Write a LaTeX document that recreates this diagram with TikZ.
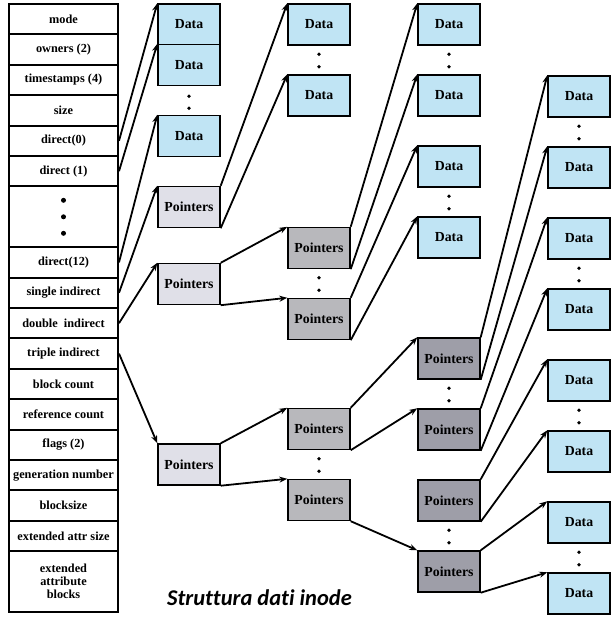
\documentclass[tikz,border=0pt]{standalone}
\usepackage{fontspec}
\setmainfont{Liberation Serif}
\newfontfamily\capfont[Ligatures=NoCommon]{Carlito}
\usepackage{tikz}
\usetikzlibrary{arrows.meta}

\definecolor{datablue}{RGB}{192,228,244}
\definecolor{ptrlight}{RGB}{224,224,232}
\definecolor{ptrmid}{RGB}{184,184,188}
\definecolor{ptrdark}{RGB}{158,158,168}

\tikzset{
  field/.style={node distance=30.4pt, draw, line width=2pt, minimum width=109pt,
    minimum height=30.4pt, inner sep=0pt, align=center,
    font=\bfseries\fontsize{12.3}{14}\selectfont},
  blk/.style={node distance=71pt, draw, line width=1.4pt, minimum width=62pt,
    minimum height=41pt, inner sep=0pt, font=\bfseries\fontsize{13.8}{15}\selectfont},
  datablk/.style={blk, fill=datablue},
  ptrA/.style={blk, fill=ptrlight},
  ptrB/.style={blk, fill=ptrmid},
  ptrC/.style={blk, fill=ptrdark},
  col/.style={node distance=130pt}
}

\begin{document}
\begin{tikzpicture}[>={Stealth[length=8pt,width=6pt]}, line width=1.8pt]

  \useasboundingbox (0,0) rectangle (612pt,-618pt);

  % inode fields
  \node[field] (r1) at (63.5pt,-19.2pt) {mode};
  \node[field, below of=r1] (r2) {owners (2)};
  \node[field, below of=r2] (r3) {timestamps (4)};
  \node[field, below of=r3] (r4) {size};
  \node[field, below of=r4] (r5) {direct(0)};
  \node[field, below of=r5] (r6) {direct (1)};
  \node[field, below of=r6, yshift=-15.2pt, minimum height=60.8pt] (rdots) {};
  \node[field, below of=rdots, yshift=-15.2pt] (r7) {direct(12)};
  \node[field, below of=r7] (r8) {single indirect};
  \node[field, below of=r8] (r9) {double\ \ indirect};
  \node[field, below of=r9] (r10) {triple indirect};
  \node[field, below of=r10] (r11) {block count};
  \node[field, below of=r11] (r12) {reference count};
  \node[field, below of=r12] (r13) {flags (2)};
  \node[field, below of=r13] (r14) {generation number};
  \node[field, below of=r14] (r15) {blocksize};
  \node[field, below of=r15] (r16) {extended attr size};
  \node[field, below of=r16, yshift=-15.2pt, minimum height=60.8pt] (r17) {extended\\[-1pt]attribute\\[-1pt]blocks};

  \fill (rdots) circle (2.5pt);
  \fill ([yshift=16.5pt]rdots.center) circle (2.5pt);
  \fill ([yshift=-16.5pt]rdots.center) circle (2.5pt);

  % first column
  \node[datablk] (a1) at (189pt,-24.5pt) {Data};
  \node[datablk, below of=a1, yshift=30.5pt] (a2) {Data};
  \node[datablk, below of=a2] (a3) {Data};
  \node[ptrA, below of=a3] (a4) {Pointers};
  \node[ptrA, below of=a4, yshift=-6pt] (a5) {Pointers};
  \node[ptrA, below of=a5, yshift=-109.5pt] (a6) {Pointers};

  % second column
  \node[datablk, col, right of=a1] (b1) {Data};
  \node[datablk, below of=b1] (b2) {Data};
  \node[ptrB, col, right of=a5, yshift=36pt] (b3) {Pointers};
  \node[ptrB, below of=b3] (b4) {Pointers};
  \node[ptrB, col, right of=a6, yshift=35.5pt] (b5) {Pointers};
  \node[ptrB, below of=b5] (b6) {Pointers};

  % third column
  \node[datablk, col, right of=b1] (c1) {Data};
  \node[datablk, below of=c1] (c2) {Data};
  \node[datablk, below of=c2] (c3) {Data};
  \node[datablk, below of=c3] (c4) {Data};
  \node[ptrC, col, right of=b5, yshift=70.5pt] (c5) {Pointers};
  \node[ptrC, below of=c5] (c6) {Pointers};
  \node[ptrC, below of=c6] (c7) {Pointers};
  \node[ptrC, below of=c7] (c8) {Pointers};

  % fourth column
  \node[datablk, col, right of=c2, yshift=-1pt] (e1) {Data};
  \node[datablk, below of=e1] (e2) {Data};
  \node[datablk, below of=e2] (e3) {Data};
  \node[datablk, below of=e3] (e4) {Data};
  \node[datablk, below of=e4] (e5) {Data};
  \node[datablk, below of=e5] (e6) {Data};
  \node[datablk, below of=e6] (e7) {Data};
  \node[datablk, below of=e7] (e8) {Data};

  % dots between blocks
  \fill ([yshift=-10pt]a2.south) circle (1.9pt) ([yshift=-22pt]a2.south) circle (1.9pt);
  \fill ([yshift=-8.5pt]b1.south) circle (1.9pt) ([yshift=-21pt]b1.south) circle (1.9pt);
  \fill ([yshift=-8.5pt]b3.south) circle (1.9pt) ([yshift=-21pt]b3.south) circle (1.9pt);
  \fill ([yshift=-8.5pt]b5.south) circle (1.9pt) ([yshift=-21pt]b5.south) circle (1.9pt);
  \fill ([yshift=-8.5pt]c1.south) circle (1.9pt) ([yshift=-21pt]c1.south) circle (1.9pt);
  \fill ([yshift=-8.5pt]c3.south) circle (1.9pt) ([yshift=-21pt]c3.south) circle (1.9pt);
  \fill ([yshift=-8.5pt]c5.south) circle (1.9pt) ([yshift=-21pt]c5.south) circle (1.9pt);
  \fill ([yshift=-8.5pt]c7.south) circle (1.9pt) ([yshift=-21pt]c7.south) circle (1.9pt);
  \fill ([yshift=-8.5pt]e1.south) circle (1.9pt) ([yshift=-21pt]e1.south) circle (1.9pt);
  \fill ([yshift=-8.5pt]e3.south) circle (1.9pt) ([yshift=-21pt]e3.south) circle (1.9pt);
  \fill ([yshift=-8.5pt]e5.south) circle (1.9pt) ([yshift=-21pt]e5.south) circle (1.9pt);
  \fill ([yshift=-8.5pt]e7.south) circle (1.9pt) ([yshift=-21pt]e7.south) circle (1.9pt);

  % pointers from the inode
  \draw[->] (r5.east) to (a1.north west);
  \draw[->] (r6.east) to (a2.north west);
  \draw[->] (r7.east) to (a3.north west);
  \draw[->] (r8.east) to (a4.north west);
  \draw[->] (r9.east) to (a5.north west);
  \draw[->] (r10.east) to (a6.north west);

  \draw[->] (a4.north east) to (b1.north west);
  \draw[->] (a4.south east) to (b2.north west);
  \draw[->] (a5.north east) to (b3.north west);
  \draw[->] (a5.south east) to (b4.north west);
  \draw[->] (a6.north east) to (b5.north west);
  \draw[->] (a6.south east) to (b6.north west);

  \draw[->] (b3.north east) to (c1.north west);
  \draw[->] (b3.south east) to (c2.north west);
  \draw[->] (b4.north east) to (c3.north west);
  \draw[->] (b4.south east) to (c4.north west);
  \draw[->] (b5.north east) to (c5.north west);
  \draw[->] (b5.south east) to (c6.north west);
  \draw[->] (b6.south east) to (c8.north west);

  \draw[->] (c5.north east) to (e1.north west);
  \draw[->] (c5.south east) to (e2.north west);
  \draw[->] (c6.north east) to (e3.north west);
  \draw[->] (c6.south east) to (e4.north west);
  \draw[->] (c7.north east) to (e5.north west);
  \draw[->] (c7.south east) to (e6.north west);
  \draw[->] (c8.north east) to (e7.north west);
  \draw[->] (c8.south east) to (e8.north west);

  \node (caption) at (259.5pt,-598pt) {\capfont\bfseries\itshape\fontsize{22.5}{26}\selectfont Struttura dati inode};

\end{tikzpicture}
\end{document}
